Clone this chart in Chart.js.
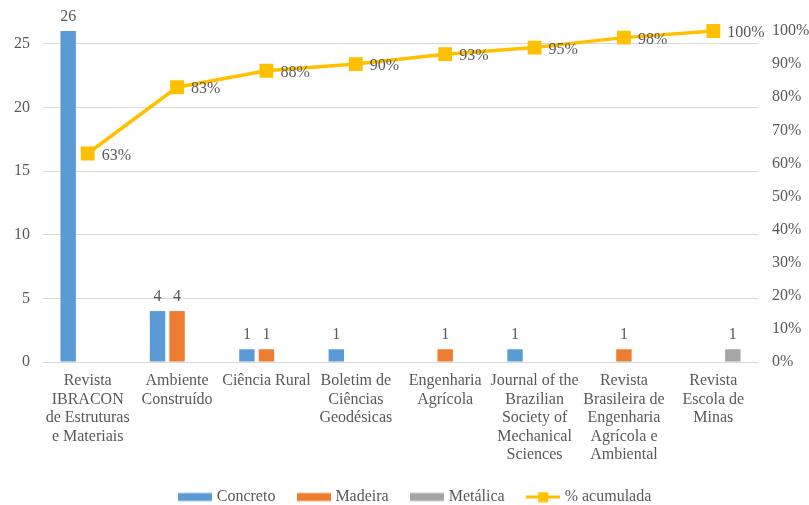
<!DOCTYPE html>
<html>
<head>
<meta charset="utf-8">
<script src="https://cdn.jsdelivr.net/npm/chart.js@4"></script>
<style>
  html, body { margin: 0; padding: 0; background: #fff; }
  #wrap { width: 809px; height: 505px; }
</style>
</head>
<body>
<div id="wrap"><canvas id="paretoChart"></canvas></div>
<script>
const journals = [
  ['Revista', 'IBRACON', 'de Estruturas', 'e Materiais'],
  ['Ambiente', 'Construído'],
  'Ciência Rural',
  ['Boletim de', 'Ciências', 'Geodésicas'],
  ['Engenharia', 'Agrícola'],
  ['Journal of the', 'Brazilian', 'Society of', 'Mechanical', 'Sciences'],
  ['Revista', 'Brasileira de', 'Engenharia', 'Agrícola e', 'Ambiental'],
  ['Revista', 'Escola de', 'Minas']
];
const concreto = [26, 4, 1, 1, 0, 1, 0, 0];
const madeira  = [0, 4, 1, 0, 1, 0, 1, 0];
const metalica = [0, 0, 0, 0, 0, 0, 0, 1];
const acumulada = [63, 83, 88, 90, 93, 95, 98, 100];
const countTicks = [0, 5, 10, 15, 20, 25];

const FONT = 'Liberation Serif';
const TEXT = '#595959';

// little legend swatches
function swatch(color, withMarker) {
  const c = document.createElement('canvas');
  c.width = 34; c.height = 11;
  const g = c.getContext('2d');
  if (withMarker) {
    g.strokeStyle = color; g.lineWidth = 3;
    g.beginPath(); g.moveTo(0, 5.5); g.lineTo(34, 5.5); g.stroke();
    g.fillStyle = color; g.fillRect(12, 0.5, 10, 10);
  } else {
    g.fillStyle = color; g.fillRect(0, 1.5, 34, 8);
  }
  return c;
}

const valueLabels = {
  id: 'valueLabels',
  afterLayout(chart) {
    // legend centring counts a trailing padding, nudge it back
    chart.legend.left += 12;
    chart.legend.right += 12;
  },
  afterDatasetsDraw(chart) {
    const ctx = chart.ctx;
    ctx.save();
    ctx.font = '16px "' + FONT + '"';
    ctx.fillStyle = TEXT;
    chart.data.datasets.forEach((ds, i) => {
      const meta = chart.getDatasetMeta(i);
      meta.data.forEach((el, j) => {
        const v = ds.data[j];
        if (ds.type === 'line') {
          ctx.textAlign = 'left';
          ctx.textBaseline = 'middle';
          ctx.fillText(v + '%', el.x + 14, el.y + 2);
        } else if (v > 0) {
          ctx.textAlign = 'center';
          ctx.textBaseline = 'alphabetic';
          ctx.fillText(v, el.x, el.y - 10);
        }
      });
    });
    ctx.restore();
  }
};

const barCommon = { type: 'bar', yAxisID: 'y', order: 1, categoryPercentage: 0.655, barPercentage: 0.79 };

new Chart(document.getElementById('paretoChart'), {
  data: {
    labels: journals,
    datasets: [
      { ...barCommon, label: 'Concreto', data: concreto, backgroundColor: '#5B9BD5', legendImg: swatch('#5B9BD5') },
      { ...barCommon, label: 'Madeira', data: madeira, backgroundColor: '#ED7D31', legendImg: swatch('#ED7D31') },
      { ...barCommon, label: 'Metálica', data: metalica, backgroundColor: '#A5A5A5', legendImg: swatch('#A5A5A5') },
      {
        type: 'line', label: '% acumulada', data: acumulada, yAxisID: 'y1', order: 0,
        borderColor: '#FFC000', backgroundColor: '#FFC000', borderWidth: 3.5,
        pointStyle: 'rect', pointRadius: 7.3, pointHoverRadius: 7.3,
        tension: 0, clip: false, legendImg: swatch('#FFC000', true)
      }
    ]
  },
  options: {
    responsive: true,
    maintainAspectRatio: false,
    animation: false,
    layout: { padding: { top: 31, bottom: -10, left: 0, right: 0 } },
    plugins: {
      tooltip: { enabled: false },
      legend: {
        position: 'bottom',
        labels: {
          usePointStyle: true,
          pointStyleWidth: 27,
          boxHeight: 11,
          padding: 25,
          color: TEXT,
          font: { family: FONT, size: 16 },
          sort: (a, b) => a.datasetIndex - b.datasetIndex,
          generateLabels(chart) {
            return chart.data.datasets.map((ds, i) => ({
              text: ds.label,
              fillStyle: ds.backgroundColor,
              strokeStyle: ds.backgroundColor,
              lineWidth: 0,
              pointStyle: ds.legendImg,
              fontColor: TEXT,
              hidden: false,
              datasetIndex: i
            }));
          }
        }
      }
    },
    scales: {
      x: {
        grid: { display: false },
        border: { display: false },
        ticks: {
          color: TEXT, font: { family: FONT, size: 16, lineHeight: 1.15 },
          maxRotation: 0, autoSkip: false, padding: 2
        },
        afterFit(scale) { scale.height = 102; }
      },
      y: {
        position: 'left',
        min: 0, max: 26,
        afterBuildTicks(axis) { axis.ticks = countTicks.map(v => ({ value: v })); },
        grid: { color: '#D9D9D9', drawTicks: false },
        border: { display: false },
        ticks: { color: TEXT, font: { family: FONT, size: 16 }, padding: 13 },
        afterFit(scale) { scale.width = 43; }
      },
      y1: {
        position: 'right',
        min: 0, max: 100,
        grid: { display: false },
        border: { display: false },
        ticks: {
          stepSize: 10, color: TEXT, font: { family: FONT, size: 16 }, padding: 6,
          callback: v => v + '%'
        },
        afterFit(scale) { scale.width = 51; }
      }
    }
  },
  plugins: [valueLabels]
});
</script>
</body>
</html>
